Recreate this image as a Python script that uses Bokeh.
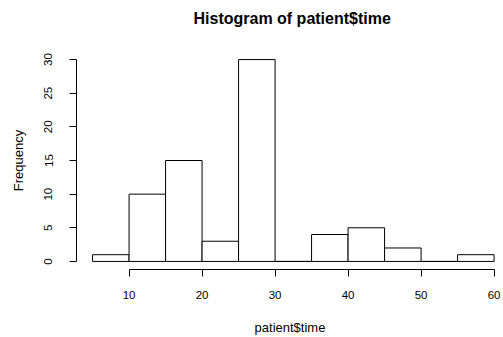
from bokeh.plotting import figure
from bokeh.models import Range1d, FixedTicker
from bokeh.embed import file_html
from bokeh.resources import INLINE

# Histogram data
bin_edges = [5, 10, 15, 20, 25, 30, 35, 40, 45, 50, 55, 60]
counts = [1, 10, 15, 3, 30, 0, 4, 5, 2, 0, 1]
x_ticks = [10, 20, 30, 40, 50, 60]
y_ticks = [0, 5, 10, 15, 20, 25, 30]
title_text = "Histogram of patient$time"

FONT = "Liberation Sans"

p = figure(
    width=503, height=337,
    output_backend="svg", toolbar_location=None,
    x_range=Range1d(2.8, 61.29), y_range=Range1d(-1.2, 31.2),
    min_border_left=76, min_border_right=0,
    min_border_top=51, min_border_bottom=67,
    title=title_text + "\n",
)
p.outline_line_color = None
p.xgrid.visible = False
p.ygrid.visible = False
p.background_fill_color = "white"
p.border_fill_color = "white"

p.quad(left=bin_edges[:-1], right=bin_edges[1:], bottom=0, top=counts,
       fill_color="white", line_color="black", line_width=1)

# R-style main title: the trailing empty line lifts it well above the frame
p.title.align = "left"
p.title.offset = 117
p.title.vertical_align = "bottom"
p.title.text_font = FONT
p.title.text_font_size = "16px"
p.title.text_font_style = "bold"
p.title.text_color = "black"
p.title.text_line_height = 1.3
p.title.standoff = 4

for ax in (p.xaxis[0], p.yaxis[0]):
    ax.axis_line_color = "black"
    ax.axis_line_width = 1
    ax.major_tick_line_color = "black"
    ax.major_tick_in = 0
    ax.major_tick_out = 7
    ax.minor_tick_line_color = None
    ax.major_label_text_font = FONT
    ax.major_label_text_font_size = "11.5px"
    ax.major_label_text_color = "black"
    ax.axis_label_text_font = FONT
    ax.axis_label_text_font_size = "13px"
    ax.axis_label_text_font_style = "normal"
    ax.axis_label_text_color = "black"

p.xaxis.bounds = (x_ticks[0], x_ticks[-1])
p.xaxis.ticker = FixedTicker(ticks=x_ticks)
p.xaxis.axis_label = "patient$time"
p.xaxis.major_label_standoff = 14
p.xaxis.axis_label_standoff = 18

p.yaxis.bounds = (y_ticks[0], y_ticks[-1])
p.yaxis.ticker = FixedTicker(ticks=y_ticks)
p.yaxis.axis_label = "Frequency"
p.yaxis.major_label_orientation = "vertical"
p.yaxis.major_label_standoff = 17
p.yaxis.axis_label_standoff = 16

open("out.html", "w").write(file_html(p, INLINE))
